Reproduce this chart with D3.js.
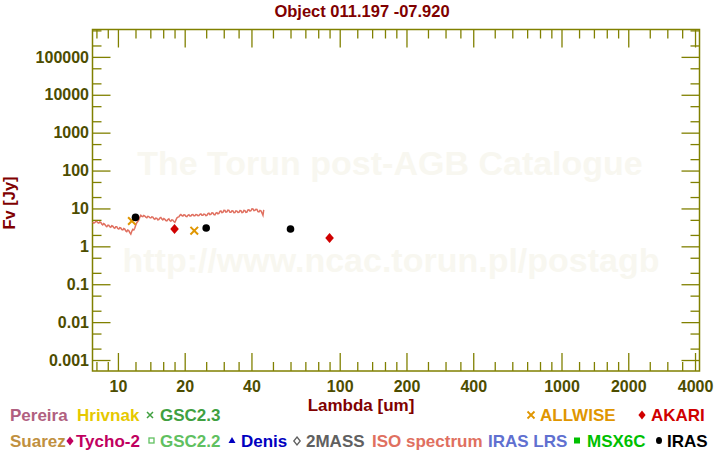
<!DOCTYPE html>
<html><head><meta charset="utf-8">
<script src="https://cdn.jsdelivr.net/npm/d3@7"></script>
<style>
body{margin:0;background:#fff;}
svg{display:block;font-family:"Liberation Sans",Arial,Helvetica,sans-serif;font-weight:bold;}
</style>
</head><body>
<svg id="chart" width="720" height="450"></svg>
<script>
// ---------------- data ----------------
const isoLambda = [7.70,7.78,7.86,7.94,8.03,8.11,8.20,8.28,8.37,8.45,8.54,8.63,8.72,8.81,8.91,9.00,9.09,9.18,9.28,9.38,9.48,9.58,9.68,9.78,9.88,9.98,10.09,10.19,10.30,10.41,10.52,10.63,10.74,10.85,10.96,11.07,11.19,11.31,11.43,11.55,11.67,11.79,11.91,12.03,12.16,12.29,12.42,12.55,12.68,12.81,12.95,13.08,13.22,13.36,13.50,13.64,13.78,13.92,14.07,14.22,14.37,14.52,14.67,14.82,14.98,15.13,15.29,15.45,15.61,15.77,15.94,16.11,16.28,16.45,16.62,16.79,16.97,17.14,17.32,17.50,17.69,17.87,18.06,18.25,18.44,18.63,18.83,19.02,19.22,19.42,19.63,19.83,20.04,20.25,20.46,20.67,20.89,21.11,21.33,21.55,21.78,22.00,22.23,22.46,22.70,22.94,23.18,23.42,23.66,23.91,24.16,24.41,24.67,24.93,25.19,25.45,25.71,25.98,26.25,26.53,26.81,27.09,27.37,27.65,27.94,28.23,28.53,28.83,29.13,29.43,29.74,30.05,30.37,30.68,31.00,31.33,31.66,31.99,32.32,32.66,33.00,33.34,33.69,34.04,34.40,34.76,35.12,35.49,35.86,36.24,36.62,37.00,37.38,37.77,38.17,38.57,38.97,39.38,39.79,40.21,40.63,41.05,41.48,41.91,42.35,42.79,43.24,43.69,44.15,44.61,45.08,45.39,45.70];
const isoFlux = [4.4,4.1,4.2,4.5,4.5,4.2,4.1,4.4,4.3,3.9,3.7,4.0,3.8,3.5,3.3,3.6,3.6,3.3,3.2,3.5,3.4,3.1,3.0,3.3,3.3,2.95,2.85,3.1,3.05,2.75,2.7,2.95,2.85,2.55,2.45,2.7,2.6,2.3,2.1,2.5,2.8,2.7,3.0,3.6,4.2,4.5,5.0,5.9,6.6,6.2,6.1,6.5,6.3,5.9,5.7,6.2,6.1,5.7,5.6,6.0,5.9,5.4,5.2,5.6,5.5,5.0,5.1,5.6,5.8,5.3,5.0,5.4,5.2,4.8,4.7,5.1,5.3,4.8,4.6,5.0,4.9,4.5,4.3,4.9,5.6,5.9,6.0,6.6,6.9,6.5,6.3,6.8,6.7,6.2,6.1,6.6,6.8,6.3,6.3,6.8,6.9,6.4,6.4,6.9,6.8,6.4,6.5,7.0,7.2,6.6,6.6,7.1,7.0,6.5,6.6,7.3,7.5,6.9,7.0,7.7,7.6,6.9,6.8,7.5,7.7,7.2,7.4,8.4,8.6,7.8,7.9,8.9,8.8,8.0,8.1,9.0,8.9,7.9,7.9,8.7,8.6,7.7,7.8,8.6,8.5,7.8,7.9,8.8,8.7,7.8,7.9,8.9,8.8,7.9,8.0,9.1,9.2,8.5,8.7,9.8,9.7,8.8,8.9,9.5,9.4,8.2,8.1,8.9,8.7,7.6,6.6,8.7,8.5];
const irasLambda = [12, 25, 60];
const irasFlux = [5.8, 3.05, 2.87];
const akariLambda = [18, 90];
const akariFlux = [2.87, 1.66];
const wiseLambda = [11.56, 22.09];
const wiseFlux = [4.66, 2.59];

const xMajorTicks = [10,20,40,100,200,400,1000,2000,4000];
const xMinorTicks = [8,9,12,14,16,18,25,30,35,50,60,70,80,90,120,140,160,180,250,300,350,500,600,700,800,900,1200,1400,1600,1800,2500,3000,3500];
const yMajorTicks = [0.001,0.01,0.1,1,10,100,1000,10000,100000];
const yMajorLabels = ["0.001","0.01","0.1","1","10","100","1000","10000","100000"];
const yMinorTicks = [0.002,0.005,0.02,0.05,0.2,0.5,2,5,20,50,200,500,2000,5000,20000,50000,200000,500000];

const titleText = "Object 011.197 -07.920";
const xLabel = "Lambda [um]";
const yLabel = "Fv [Jy]";
const watermark1 = "The Torun post-AGB Catalogue";
const watermark2 = "http://www.ncac.torun.pl/postagb";

// ---------------- layout ----------------
const L = 92.5, R = 699.5, T = 29.5, B = 371;
const olive = "#808000", tickText = "#4d4d00", darkRed = "#800000";

const svg = d3.select("#chart");
const x = d3.scaleLog().domain([7.68, 4190]).range([L, R]);
const y = d3.scaleLog().domain([5.13e-4, 5.28e5]).range([B, T]);

// watermark
svg.append("text").attr("x", 390).attr("y", 175).attr("text-anchor","middle")
  .attr("font-size", 34).attr("fill", "#f8f7f0").text(watermark1);
svg.append("text").attr("x", 391).attr("y", 272).attr("text-anchor","middle")
  .attr("font-size", 34).attr("fill", "#f8f7f0").text(watermark2);

// title
svg.append("text").attr("x", 362).attr("y", 17).attr("text-anchor","middle")
  .attr("font-size", 16.5).attr("fill", darkRed).text(titleText);

// axes
function styleAxis(g){
  g.select(".domain").remove();
  g.selectAll(".tick line").attr("stroke", olive).attr("stroke-width", 1.3);
  g.selectAll("text").attr("fill", tickText).attr("font-size", 16)
   .attr("font-family", "'Liberation Sans',Arial,sans-serif").attr("font-weight","bold");
}
// bottom
svg.append("g").attr("transform", `translate(0,${B})`)
  .call(d3.axisBottom(x).tickValues(xMajorTicks).tickSize(-18).tickPadding(10)
        .tickFormat(d => String(d)))
  .call(styleAxis);
svg.append("g").attr("transform", `translate(0,${B})`)
  .call(d3.axisBottom(x).tickValues(xMinorTicks).tickSize(-9).tickFormat(""))
  .call(styleAxis);
// top
svg.append("g").attr("transform", `translate(0,${T})`)
  .call(d3.axisTop(x).tickValues(xMajorTicks).tickSize(-18).tickFormat(""))
  .call(styleAxis);
svg.append("g").attr("transform", `translate(0,${T})`)
  .call(d3.axisTop(x).tickValues(xMinorTicks).tickSize(-9).tickFormat(""))
  .call(styleAxis);
// left
svg.append("g").attr("transform", `translate(${L},0)`)
  .call(d3.axisLeft(y).tickValues(yMajorTicks).tickSize(-18).tickPadding(3.5)
        .tickFormat((d,i) => yMajorLabels[i]))
  .call(styleAxis);
svg.append("g").attr("transform", `translate(${L},0)`)
  .call(d3.axisLeft(y).tickValues(yMinorTicks).tickSize(-9).tickFormat(""))
  .call(styleAxis);
// right
svg.append("g").attr("transform", `translate(${R},0)`)
  .call(d3.axisRight(y).tickValues(yMajorTicks).tickSize(-18).tickFormat(""))
  .call(styleAxis);
svg.append("g").attr("transform", `translate(${R},0)`)
  .call(d3.axisRight(y).tickValues(yMinorTicks).tickSize(-9).tickFormat(""))
  .call(styleAxis);

// frame
svg.append("rect").attr("x", L).attr("y", T).attr("width", R-L).attr("height", B-T)
  .attr("fill","none").attr("stroke", olive).attr("stroke-width", 1.5);

// axis labels
svg.append("text").attr("x", 361).attr("y", 411).attr("text-anchor","middle")
  .attr("font-size", 17).attr("fill", darkRed).text(xLabel);
svg.append("text").attr("transform","translate(15,203) rotate(-90)").attr("text-anchor","middle")
  .attr("font-size", 16.5).attr("fill", darkRed).text(yLabel);

// ISO spectrum
const isoData = isoLambda.map((l,i) => [l, isoFlux[i]]);
svg.append("path").datum(isoData)
  .attr("d", d3.line().x(d => x(d[0])).y(d => y(d[1])))
  .attr("fill","none").attr("stroke","#e07060").attr("stroke-width",1.5);

// ALLWISE crosses
const wiseG = svg.append("g");
wiseLambda.forEach((l,i) => {
  const cx = x(l), cy = y(wiseFlux[i]), s = 3.8;
  wiseG.append("path").attr("d", `M${cx-s},${cy-s}L${cx+s},${cy+s}M${cx-s},${cy+s}L${cx+s},${cy-s}`)
    .attr("stroke","#e09600").attr("stroke-width",2).attr("fill","none");
});
// AKARI diamonds
akariLambda.forEach((l,i) => {
  const cx = x(l), cy = y(akariFlux[i]);
  svg.append("path").attr("d", `M${cx},${cy-5}L${cx+4.3},${cy}L${cx},${cy+5}L${cx-4.3},${cy}Z`)
    .attr("fill","#d00000");
});
// IRAS circles
svg.selectAll("circle.iras").data(irasLambda).enter().append("circle")
  .attr("class","iras").attr("cx", d => x(d)).attr("cy", (d,i) => y(irasFlux[i]))
  .attr("r", 3.8).attr("fill","#000");

// ---------------- legend ----------------
const lg = svg.append("g").attr("font-size", 17);
function lt(xp, yp, txt, col){ lg.append("text").attr("x", xp).attr("y", yp).attr("fill", col).text(txt); }
const r1 = 421, r2 = 447;
lt(10, r1, "Pereira", "#b06080");
lt(77, r1, "Hrivnak", "#e6c800");
function cross(cx, cy, s, col, w){
  lg.append("path").attr("d", `M${cx-s},${cy-s}L${cx+s},${cy+s}M${cx-s},${cy+s}L${cx+s},${cy-s}`)
    .attr("stroke", col).attr("stroke-width", w).attr("fill","none");
}
function diamond(cx, cy, s, col, filled){
  lg.append("path").attr("d", `M${cx},${cy-s}L${cx+s*0.8},${cy}L${cx},${cy+s}L${cx-s*0.8},${cy}Z`)
    .attr("fill", filled ? col : "none").attr("stroke", filled ? "none" : col).attr("stroke-width", 1.3);
}
cross(150, r1-6, 3, "#40a040", 1.5);
lt(160, r1, "GSC2.3", "#40a040");
cross(531, r1-6, 3.5, "#e09600", 1.8);
lt(540, r1, "ALLWISE", "#e09600");
diamond(642, r1-6, 4.5, "#d00000", true);
lt(651, r1, "AKARI", "#d00000");

lt(10, r2, "Suarez", "#c09040");
diamond(70, r2-6, 4.5, "#c00060", true);
lt(76, r2, "Tycho-2", "#c00060");
lg.append("rect").attr("x", 149).attr("y", r2-9).attr("width", 5).attr("height", 5)
  .attr("fill","none").attr("stroke","#60c060").attr("stroke-width",1.3);
lt(160, r2, "GSC2.2", "#60c060");
lg.append("path").attr("d", `M232,${r2-10}L235.5,${r2-4}L228.5,${r2-4}Z`).attr("fill","#0000c0");
lt(241, r2, "Denis", "#0000c0");
diamond(297, r2-6, 4, "#606060", false);
lt(306, r2, "2MASS", "#606060");
lt(372, r2, "ISO spectrum", "#e07060");
lt(488, r2, "IRAS LRS", "#6070d0");
lg.append("rect").attr("x", 574).attr("y", r2-9.5).attr("width", 6).attr("height", 6).attr("fill","#00c000");
lt(587, r2, "MSX6C", "#00c000");
lg.append("ellipse").attr("cx", 659).attr("cy", r2-6.5).attr("rx", 3).attr("ry", 3.6).attr("fill","#000");
lt(667, r2, "IRAS", "#000");
</script>
</body></html>
